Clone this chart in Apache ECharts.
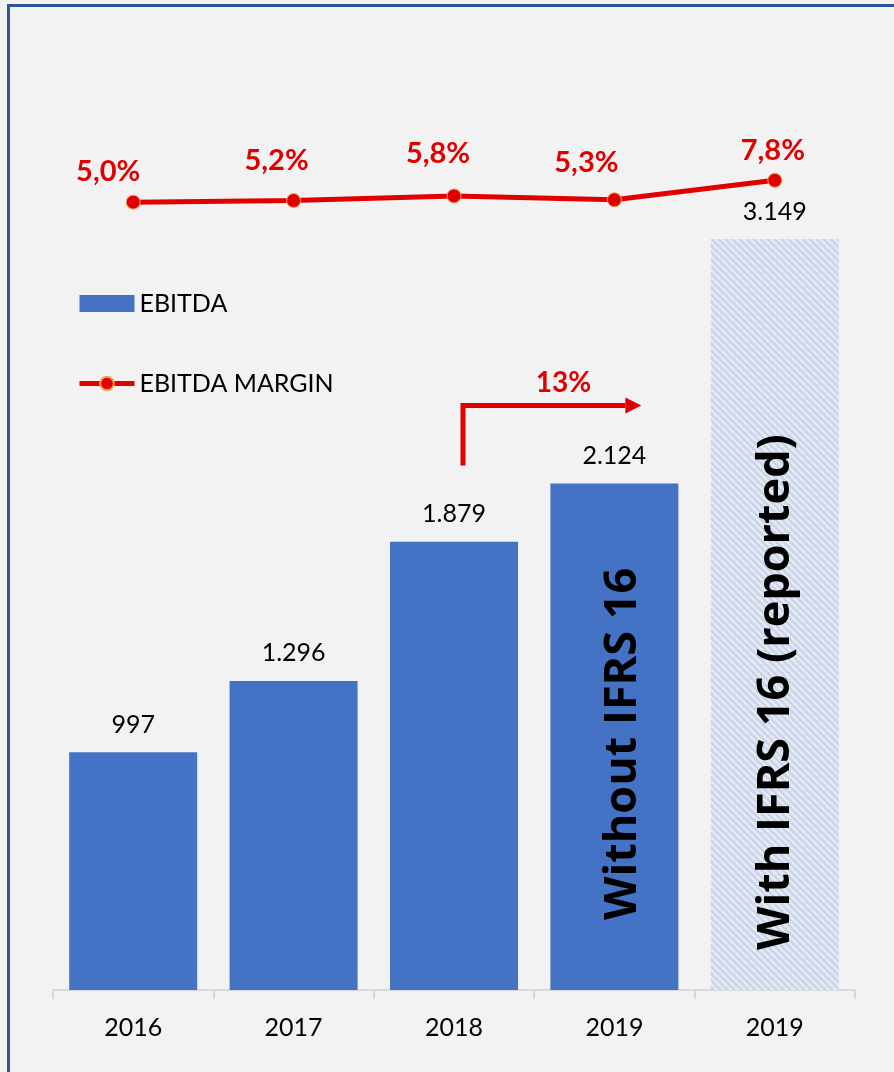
<!DOCTYPE html>
<html>
<head>
<meta charset="utf-8">
<script src="https://cdn.jsdelivr.net/npm/echarts@6/dist/echarts.min.js"></script>
<style>
  html, body { margin: 0; padding: 0; background: #f2f2f2; overflow: hidden; }
  #chart { position: absolute; left: 0; top: 0; width: 894px; height: 1072px; }
  #frame { position: absolute; left: 7px; top: 4px; width: 1000px; height: 1200px;
           border-left: 3px solid #2f5597; border-top: 3px solid #2f5597; pointer-events: none; }
</style>
</head>
<body>
<div id="frame"></div>
<div id="chart"></div>
<script>
// EBITDA by year, with the 2019 figure shown both before and after IFRS 16
const years = ['2016', '2017', '2018', '2019', '2019'];
const ebitda = [997, 1296, 1879, 2124, 3149];
const ebitdaMargin = [5.0, 5.2, 5.8, 5.3, 7.8];
const barNotes = ['', '', '', 'Without IFRS 16', 'With IFRS 16 (reported)'];

const FONT = 'Lato, "Open Sans", sans-serif';
const NOTE_FONT = '"Open Sans", Lato, sans-serif';
const RED = '#e00000';
const BLUE = '#4472c4';

// label nudges for the margin values (screen px)
const marginLabelShift = [[-25, -31], [-17, -40], [-16, -42], [-28, -37], [-2, -30]];
// nudges for the rotated notes, in the label's own rotated frame: [along text, across text]
const noteShift = [null, null, null, [70, 9], [40, 1]];

function thousands(v) {
  return String(v).replace(/\B(?=(\d{3})+(?!\d))/g, '.');
}
function pct(v) {
  return v.toFixed(1).replace('.', ',') + '%';
}

// diagonal hatch used for the reported (IFRS 16) bar
function hatchPattern() {
  const s = 7;
  const c = document.createElement('canvas');
  c.width = s; c.height = s;
  const g = c.getContext('2d');
  g.fillStyle = '#cbd5ea';
  g.fillRect(0, 0, s, s);
  g.strokeStyle = '#e6ebf5';
  g.lineWidth = 2.4;
  g.beginPath();
  for (let k = -1; k <= 1; k++) {
    g.moveTo(k * s, 0);
    g.lineTo(k * s + s, s);
  }
  g.stroke();
  return c;
}

const chart = echarts.init(document.getElementById('chart'), null, { renderer: 'canvas' });

const option = {
  animation: false,
  backgroundColor: 'transparent',
  grid: { left: 53, right: 39, top: 36, bottom: 82, containLabel: false },
  legend: {
    orient: 'vertical',
    left: 77,
    top: 291,
    padding: 0,
    itemWidth: 55,
    itemHeight: 17,
    itemGap: 55,
    selectedMode: false,
    lineStyle: { width: 5 },
    data: [
      { name: 'EBITDA', icon: 'rect' },
      { name: 'EBITDA MARGIN' }
    ],
    textStyle: { fontFamily: FONT, fontSize: 25, color: '#000' }
  },
  xAxis: {
    type: 'category',
    data: years,
    axisLine: { lineStyle: { color: '#d9d9d9', width: 2 } },
    axisTick: { show: true, length: 9, lineStyle: { color: '#d9d9d9', width: 2 } },
    axisLabel: { fontFamily: FONT, fontSize: 25, color: '#000', margin: 25 }
  },
  yAxis: [
    { type: 'value', min: 0, max: 4000, show: false, splitLine: { show: false } },
    { type: 'value', min: -96, max: 26.3, show: false, splitLine: { show: false } }
  ],
  series: [
    {
      name: 'EBITDA',
      type: 'bar',
      barWidth: 128,
      itemStyle: { color: BLUE },
      data: ebitda.map((v, i) => i === 4
        ? { value: v, itemStyle: { color: { image: hatchPattern(), repeat: 'repeat' } } }
        : v),
      label: {
        show: true,
        position: 'top',
        distance: 15,
        fontFamily: FONT,
        fontSize: 25,
        color: '#000',
        formatter: p => thousands(p.value)
      }
    },
    {
      name: 'notes',
      type: 'bar',
      barWidth: 128,
      barGap: '-100%',
      silent: true,
      z: 3,
      itemStyle: { color: 'transparent' },
      data: ebitda.map((v, i) => barNotes[i]
        ? { value: v, label: { offset: noteShift[i] } }
        : '-'),
      label: {
        show: true,
        position: ['50%', '100%'],
        rotate: 90,
        align: 'left',
        verticalAlign: 'middle',
        fontFamily: NOTE_FONT,
        fontWeight: 'bold',
        fontSize: 45,
        color: '#000',
        formatter: p => barNotes[p.dataIndex]
      }
    },
    {
      name: 'EBITDA MARGIN',
      type: 'line',
      yAxisIndex: 1,
      z: 4,
      symbol: 'circle',
      symbolSize: 14,
      lineStyle: { color: RED, width: 5 },
      itemStyle: { color: RED, borderColor: '#f3a25e', borderWidth: 1 },
      data: ebitdaMargin.map((v, i) => ({ value: v, label: { offset: marginLabelShift[i] } })),
      label: {
        show: true,
        position: 'inside',
        fontFamily: FONT,
        fontWeight: 'bold',
        fontSize: 29,
        color: RED,
        formatter: p => pct(p.value)
      }
    }
  ]
};

chart.setOption(option);

// growth arrow from 2018 to 2019 (before IFRS 16)
function growthArrow() {
  const p2 = chart.convertToPixel({ xAxisIndex: 0, yAxisIndex: 0 }, [2, ebitda[2]]);
  const p3 = chart.convertToPixel({ xAxisIndex: 0, yAxisIndex: 0 }, [3, ebitda[3]]);
  const x0 = p2[0] + 9;
  const x1 = p3[0] + 11;
  const yTop = p3[1] - 78;
  const yBot = p3[1] - 18;
  const growth = Math.round((ebitda[3] / ebitda[2] - 1) * 100) + '%';
  chart.setOption({
    graphic: [
      {
        type: 'polyline',
        shape: { points: [[x0, yBot], [x0, yTop], [x1, yTop]] },
        style: { stroke: RED, lineWidth: 5, fill: null, lineJoin: 'miter' },
        silent: true
      },
      {
        type: 'polygon',
        shape: { points: [[x1, yTop - 8], [x1 + 16, yTop], [x1, yTop + 8]] },
        style: { fill: RED },
        silent: true
      },
      {
        type: 'text',
        x: p3[0] - 51,
        y: yTop - 22,
        style: {
          text: growth,
          fill: RED,
          font: 'bold 28px ' + FONT,
          align: 'center',
          verticalAlign: 'middle'
        },
        silent: true
      }
    ]
  });
}
growthArrow();
</script>
</body>
</html>
